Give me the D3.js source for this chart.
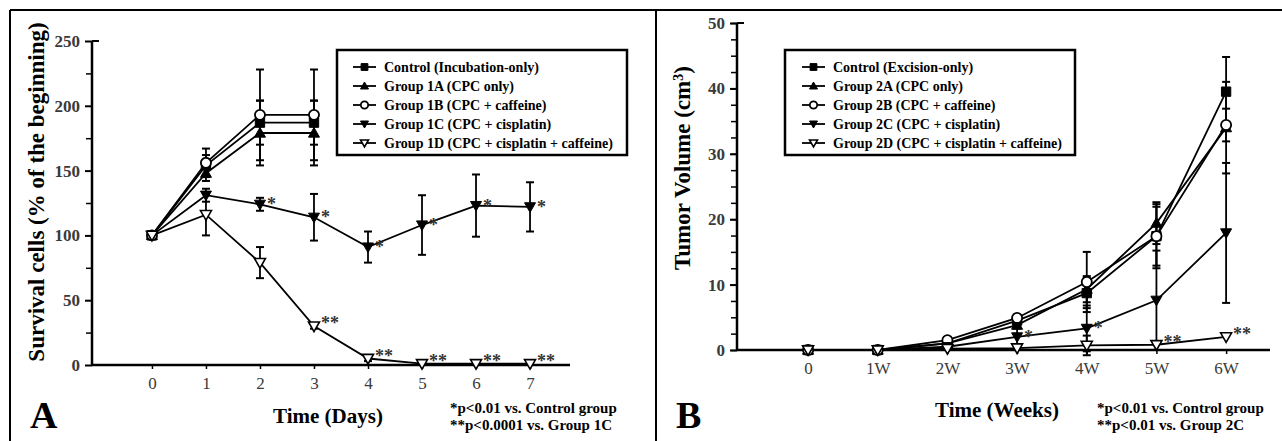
<!DOCTYPE html>
<html><head><meta charset="utf-8">
<script src="https://cdn.jsdelivr.net/npm/d3@7/dist/d3.min.js"></script>
<style>body{margin:0;background:#fff}svg{display:block}text{font-family:"Liberation Serif","Times New Roman",serif}</style>
</head><body>
<svg id="c" width="1282" height="441"></svg>
<script>
// ---------- Panel A data ----------
const daysA = [0,1,2,3,4,5,6,7];
const xTicksA = ["0","1","2","3","4","5","6","7"];
const yTicksA = [0,50,100,150,200,250];
const ctrlA = [100,154,187,187];
const ctrlAErr = [0,8,17,17];
const g1A = [100,148,179,179];
const g1AErr = [0,6,25,25];
const g1B = [100,156,193,193];
const g1BErr = [0,11,35,35];
const g1C = [100,131,124,114,91,108,123,122];
const g1CErr = [0,5,5,18,12,23,24,19];
const g1D = [100,116,79,30,5,1,1,1];
const g1DErr = [0,16,12,2,2,0,0,0];
const starsA1C = ["","","*","*","*","*","*","*"];
const starsA1D = ["","","","**","**","**","**","**"];
const legendA = ["Control (Incubation-only)","Group 1A (CPC only)","Group 1B (CPC + caffeine)","Group 1C (CPC + cisplatin)","Group 1D (CPC + cisplatin  + caffeine)"];

// ---------- Panel B data ----------
const weeksB = [0,1,2,3,4,5,6];
const xTicksB = ["0","1W","2W","3W","4W","5W","6W"];
const yTicksB = [0,10,20,30,40,50];
const ctrlB = [0,0,1.0,4.5,8.7,17.4,39.5];
const ctrlBErr = [0,0,0.3,0.8,2.3,4.5,5.3];
const g2A = [0,0,1.0,3.8,9.3,19.4,34.0];
const g2AErr = [0,0,0,0.5,2,3.2,7];
const g2B = [0,0,1.5,4.9,10.4,17.4,34.4];
const g2BErr = [0,0,0,0.5,4.6,4.9,2.5];
const g2C = [0,0,0.5,2.0,3.3,7.6,17.9];
const g2CErr = [0,0,0,1.5,3.5,7.6,10.7];
const g2D = [0,0,0.2,0.3,0.7,0.8,2.0];
const g2DErr = [0,0,0,0,1.5,0,0];
const starsB2C = ["","","","*","*","",""];
const starsB2D = ["","","","","","**","**"];
const legendB = ["Control (Excision-only)","Group 2A (CPC only)","Group 2B (CPC + caffeine)","Group 2C (CPC + cisplatin)","Group 2D (CPC + cisplatin  + caffeine)"];

const shapes = ["square","triUp","circle","triDownFill","triDownOpen"];

const svg = d3.select("#c");

function markerPath(type, s){
  const h=s/2;
  if(type==="square") return `M${-h*0.85},${-h*0.85}H${h*0.85}V${h*0.85}H${-h*0.85}Z`;
  if(type==="triUp") return `M0,${-h}L${h},${h*0.75}L${-h},${h*0.75}Z`;
  if(type==="triDownFill"||type==="triDownOpen") return `M${-h},${-h*0.75}L${h},${-h*0.75}L0,${h}Z`;
  return null;
}
function drawMarker(g, type, x, y, s){
  if(type==="circle"){
    g.append("circle").attr("cx",x).attr("cy",y).attr("r",s*0.46)
      .attr("fill","#fff").attr("stroke","#000").attr("stroke-width",1.8);
  } else {
    const open = type==="triDownOpen";
    g.append("path").attr("d",markerPath(type,s)).attr("transform",`translate(${x},${y})`)
      .attr("fill",open?"#fff":"#000").attr("stroke","#000").attr("stroke-width",open?1.6:1);
  }
}

function panel(cfg){
  const g = svg.append("g");
  const x = d3.scaleLinear().domain(cfg.xDomain).range(cfg.xRange);
  const y = d3.scaleLinear().domain(cfg.yDomain).range(cfg.yRange);
  // y axis
  const ya = d3.axisLeft(y).tickValues(cfg.minor).tickSize(6).tickFormat("");
  g.append("g").attr("transform",`translate(${cfg.xRange[0]},0)`).call(ya)
    .call(s=>s.select(".domain").remove())
    .call(s=>s.selectAll("line").attr("stroke","#000").attr("stroke-width",1.5));
  const yMaj = d3.axisLeft(y).tickValues(cfg.yTicks).tickSize(7).tickPadding(5);
  g.append("g").attr("transform",`translate(${cfg.xRange[0]},0)`).call(yMaj)
    .call(s=>s.select(".domain").remove())
    .call(s=>s.selectAll("line").attr("stroke","#000").attr("stroke-width",2))
    .call(s=>s.selectAll("text").attr("font-size",17).attr("fill","#3a3a3a").attr("font-family","Liberation Serif").attr("font-weight","bold"));
  g.append("line").attr("x1",cfg.xRange[0]).attr("x2",cfg.xRange[0]+7)
    .attr("y1",y(cfg.yDomain[1])).attr("y2",y(cfg.yDomain[1])).attr("stroke","#000").attr("stroke-width",2);
  g.append("line").attr("x1",cfg.xRange[0]).attr("x2",cfg.xRange[0])
    .attr("y1",y(cfg.yDomain[0])).attr("y2",y(cfg.yDomain[1])).attr("stroke","#000").attr("stroke-width",2.5);
  // x axis
  const xa = d3.axisBottom(x).tickValues(cfg.xVals).tickSize(4).tickPadding(8).tickFormat((d,i)=>cfg.xLabels[i]);
  g.append("g").attr("transform",`translate(0,${y(0)})`).call(xa)
    .call(s=>s.select(".domain").remove())
    .call(s=>s.selectAll("line").attr("stroke","#000").attr("stroke-width",1.5))
    .call(s=>s.selectAll("text").attr("font-size",17).attr("fill","#3a3a3a").attr("font-family","Liberation Serif"));
  g.append("line").attr("x1",cfg.xRange[0]).attr("x2",cfg.xRange[1])
    .attr("y1",y(0)).attr("y2",y(0)).attr("stroke","#000").attr("stroke-width",2.5);

  // series lines
  cfg.series.forEach(se=>{
    const pts = se.vals.map((v,i)=>[x(cfg.xVals[i]),y(v)]);
    g.append("path").attr("d",d3.line()(pts)).attr("fill","none").attr("stroke","#000").attr("stroke-width",1.8);
  });
  // error bars
  cfg.series.forEach(se=>{
    se.vals.forEach((v,i)=>{
      const e=se.err[i]; if(!e) return;
      const cx=x(cfg.xVals[i]);
      g.append("line").attr("x1",cx).attr("x2",cx).attr("y1",y(v-e)).attr("y2",y(v+e)).attr("stroke","#000").attr("stroke-width",1.8);
      [v-e,v+e].forEach(t=>g.append("line").attr("x1",cx-4).attr("x2",cx+4).attr("y1",y(t)).attr("y2",y(t)).attr("stroke","#000").attr("stroke-width",2));
    });
  });
  // markers
  cfg.series.forEach(se=>{
    se.vals.forEach((v,i)=>drawMarker(g,se.shape,x(cfg.xVals[i]),y(v),11));
  });
  // stars
  cfg.stars.forEach(st=>{
    st.labels.forEach((lb,i)=>{
      if(!lb) return;
      g.append("text").attr("x",x(cfg.xVals[i])+7).attr("y",y(st.vals[i])+st.dy)
        .attr("font-size",18).attr("font-weight","bold").attr("fill","#333").text(lb);
    });
  });
  // legend
  const L = cfg.legend;
  g.append("rect").attr("x",L.x).attr("y",L.y).attr("width",L.w).attr("height",L.h)
    .attr("fill","#fff").attr("stroke","#000").attr("stroke-width",2.5);
  L.labels.forEach((lb,i)=>{
    const ly = L.y+17+i*19;
    g.append("line").attr("x1",L.sx).attr("x2",L.sx+23).attr("y1",ly).attr("y2",ly).attr("stroke","#000").attr("stroke-width",1.8);
    drawMarker(g,shapes[i],L.sx+11.5,ly,8);
    g.append("text").attr("x",L.tx).attr("y",ly+4.5).attr("font-size",14).attr("font-weight","bold").text(lb);
  });
  // titles
  g.append("text").attr("transform",`translate(${cfg.yTitle.x},${cfg.yTitle.y}) rotate(-90)`).attr("text-anchor","middle")
    .attr("font-size",cfg.yTitle.fs).attr("font-weight","bold").call(cfg.yTitle.fn);
  g.append("text").attr("x",cfg.xTitle.x).attr("y",cfg.xTitle.y).attr("text-anchor","middle")
    .attr("font-size",21).attr("font-weight","bold").text(cfg.xTitle.t);
  g.append("text").attr("x",cfg.letter.x).attr("y",cfg.letter.y).attr("font-size",38).attr("font-weight","bold").text(cfg.letter.t);
  cfg.notes.t.forEach((t,i)=>g.append("text").attr("x",cfg.notes.x).attr("y",cfg.notes.y+i*17)
    .attr("font-size",15).attr("font-weight","bold").text(t));
}

panel({
  xDomain:[-1.11,7.74], xRange:[92,570], yDomain:[0,250], yRange:[365,41],
  yTicks:yTicksA, minor:[25,75,125,175,225], xVals:daysA, xLabels:xTicksA,
  series:[
    {vals:ctrlA,err:ctrlAErr,shape:"square"},
    {vals:g1A,err:g1AErr,shape:"triUp"},
    {vals:g1B,err:g1BErr,shape:"circle"},
    {vals:g1C,err:g1CErr,shape:"triDownFill"},
    {vals:g1D,err:g1DErr,shape:"triDownOpen"}],
  stars:[{labels:starsA1C,vals:g1C,dy:6},{labels:starsA1D,vals:g1D,dy:3}],
  legend:{x:337,y:50,w:290,h:105,sx:353,tx:384,labels:legendA},
  yTitle:{x:44,y:192,fs:23,fn:s=>s.text("Survival cells (% of the beginning)")},
  xTitle:{x:328,y:423,t:"Time (Days)"},
  letter:{x:30,y:428,t:"A"},
  notes:{x:450,y:413,t:["*p<0.01 vs. Control group","**p<0.0001 vs. Group 1C"]}
});
panel({
  xDomain:[-1.02,6.63], xRange:[737,1270], yDomain:[0,50], yRange:[350,23],
  yTicks:yTicksB, minor:d3.range(0,50.1,2.5), xVals:weeksB, xLabels:xTicksB,
  series:[
    {vals:ctrlB,err:ctrlBErr,shape:"square"},
    {vals:g2A,err:g2AErr,shape:"triUp"},
    {vals:g2B,err:g2BErr,shape:"circle"},
    {vals:g2C,err:g2CErr,shape:"triDownFill"},
    {vals:g2D,err:g2DErr,shape:"triDownOpen"}],
  stars:[{labels:starsB2C,vals:g2C,dy:6},{labels:starsB2D,vals:g2D,dy:3}],
  legend:{x:785,y:50,w:290,h:105,sx:802,tx:833,labels:legendB},
  yTitle:{x:690,y:168,fs:23,fn:s=>{s.append("tspan").text("Tumor Volume (cm");s.append("tspan").attr("baseline-shift","super").attr("font-size",14).text("3");s.append("tspan").text(")");}},
  xTitle:{x:997,y:417,t:"Time (Weeks)"},
  letter:{x:676,y:428,t:"B"},
  notes:{x:1097,y:413,t:["*p<0.01 vs. Control group","**p<0.01 vs. Group 2C"]}
});

// frames
svg.append("line").attr("x1",10).attr("x2",1282).attr("y1",10).attr("y2",10).attr("stroke","#000").attr("stroke-width",2);
svg.append("line").attr("x1",10).attr("x2",10).attr("y1",10).attr("y2",441).attr("stroke","#000").attr("stroke-width",2);
svg.append("line").attr("x1",656).attr("x2",656).attr("y1",10).attr("y2",441).attr("stroke","#000").attr("stroke-width",2);
</script>
</body></html>
